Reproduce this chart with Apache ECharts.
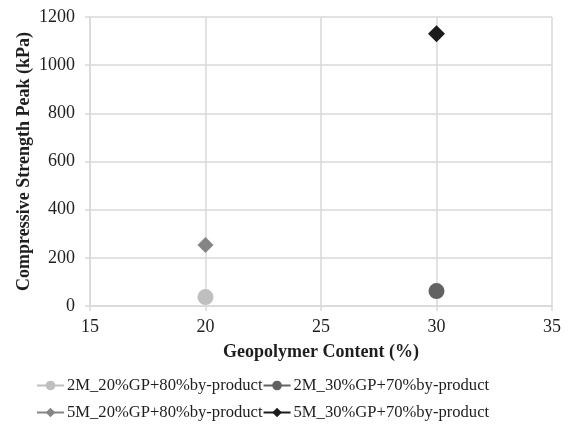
<!DOCTYPE html>
<html>
<head>
<meta charset="utf-8">
<script src="https://cdn.jsdelivr.net/npm/echarts@6/dist/echarts.min.js"></script>
<style>
  html, body { margin: 0; padding: 0; background: #fff; }
  #chart { width: 569px; height: 435px; }
</style>
</head>
<body>
<div id="chart"></div>
<script>
// geopolymer content (%) on x, peak strength (kPa) on y
let seriesNames = ['2M_20%GP+80%by-product', '2M_30%GP+70%by-product', '5M_20%GP+80%by-product', '5M_30%GP+70%by-product']
let xValues = [20, 30, 20, 30]
let yValues = [37, 62, 253, 1130]
let colors = ['#bfbfbf', '#626262', '#858585', '#1c1c1c']
let symbols = ['circle', 'circle', 'diamond', 'diamond']
let symbolSizes = [16, 16, 16, 17]

let font = '"Liberation Serif", "Times New Roman", serif'
let gridGray = '#d9d9d9'

let series = []
for (let i = 0; i < seriesNames.length; i++) {
  series.push({
    name: seriesNames[i],
    type: 'line',
    data: [[xValues[i], yValues[i]]],
    symbol: symbols[i],
    symbolSize: symbolSizes[i],
    itemStyle: {color: colors[i]},
    lineStyle: {color: colors[i], width: 3}
  })
}

let legendBase = {
  left: 36,
  padding: 0,
  itemWidth: 27,
  itemHeight: 12,
  itemGap: 0,
  textStyle: {fontFamily: font, fontSize: 16.6, color: '#1e1e1e', padding: [0, 0, 0, -2]}
}

let chart = echarts.init(document.getElementById('chart'))
let option = {
  animation: false,
  grid: {left: 90, right: 17, top: 17, bottom: 129},
  legend: [
    Object.assign({}, legendBase, {top: 377, data: [seriesNames[0], seriesNames[1]]}),
    Object.assign({}, legendBase, {top: 404, data: [seriesNames[2], seriesNames[3]]})
  ],
  xAxis: {
    type: 'value',
    min: 15,
    max: 35,
    interval: 5,
    name: 'Geopolymer Content (%)',
    nameLocation: 'middle',
    nameGap: 37,
    nameMoveOverlap: false,
    nameTextStyle: {fontFamily: font, fontSize: 18, fontWeight: 'bold', color: '#1e1e1e'},
    axisLine: {show: true, lineStyle: {color: gridGray, width: 1.5}},
    axisTick: {show: true, length: 5, lineStyle: {color: gridGray, width: 1.5}},
    splitLine: {show: true, lineStyle: {color: gridGray, width: 1.5}},
    axisLabel: {fontFamily: font, fontSize: 18, color: '#1e1e1e', margin: 12}
  },
  yAxis: {
    type: 'value',
    min: 0,
    max: 1200,
    interval: 200,
    name: 'Compressive Strength Peak (kPa)',
    nameLocation: 'middle',
    nameGap: 57,
    nameMoveOverlap: false,
    nameTextStyle: {fontFamily: font, fontSize: 18, fontWeight: 'bold', color: '#1e1e1e'},
    axisLine: {show: true, lineStyle: {color: gridGray, width: 1.5}},
    axisTick: {show: true, length: 5, lineStyle: {color: gridGray, width: 1.5}},
    splitLine: {show: true, lineStyle: {color: gridGray, width: 1.5}},
    axisLabel: {
      fontFamily: font,
      fontSize: 18,
      color: '#1e1e1e',
      margin: 15,
      formatter: function (value) {
        return String(value)
      }
    }
  },
  series: series
}
chart.setOption(option)
</script>
</body>
</html>
